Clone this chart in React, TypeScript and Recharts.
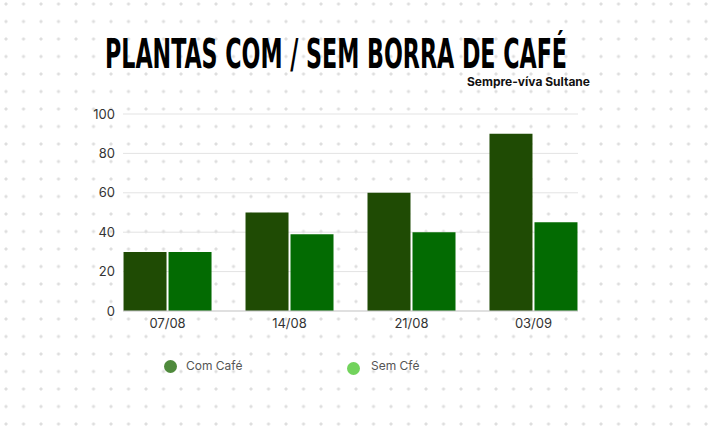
import React from 'react';
import { BarChart, Bar, XAxis, YAxis, CartesianGrid } from 'recharts';

const categories = ['07/08', '14/08', '21/08', '03/09'];
const comCafe = [30, 50, 60, 90];
const semCafe = [30, 39, 40, 45];
const yTicks = [0, 20, 40, 60, 80, 100];

const data = categories.map((c, i) => ({ idx: i, label: c, com: comCafe[i], sem: semCafe[i] }));

const FONT = 'Inter, "Open Sans", sans-serif';

function LegendRow() {
  return (
    <div style={{ position: 'absolute', left: 0, top: 357, width: 720, height: 30, fontFamily: FONT, fontSize: 12, color: '#555' }}>
      <span style={{ position: 'absolute', left: 164, top: 3, width: 13, height: 13, borderRadius: '50%', background: '#4f8a3c' }} />
      <span style={{ position: 'absolute', left: 186, top: 1 }}>Com Café</span>
      <span style={{ position: 'absolute', left: 347, top: 5, width: 13, height: 13, borderRadius: '50%', background: '#72d35c' }} />
      <span style={{ position: 'absolute', left: 371, top: 1 }}>Sem Cfé</span>
    </div>
  );
}

export default function App() {
  return (
    <div
      style={{
        position: 'absolute',
        left: 0,
        top: 0,
        width: 720,
        height: 435,
        background: '#fff',
        backgroundImage: 'radial-gradient(circle, #dedede 1.3px, transparent 1.8px)',
        backgroundSize: '17.5px 17.5px',
        backgroundPosition: '-2.75px -4.75px',
      }}
    >
      <svg width={720} height={100} style={{ position: 'absolute', left: 0, top: 0 }}>
        <text
          x={105}
          y={68}
          textLength={462}
          lengthAdjust="spacingAndGlyphs"
          fontFamily='"Liberation Sans Narrow", "DejaVu Sans Condensed", sans-serif'
          fontWeight={700}
          fontSize={40}
          fill="#000"
        >
          PLANTAS COM / SEM BORRA DE CAFÉ
        </text>
        <text x={590} y={86} textAnchor="end" fontFamily={FONT} fontWeight={700} fontSize={12} fill="#111">
          Sempre-víva Sultane
        </text>
      </svg>
      <div style={{ position: 'absolute', left: 0, top: 0 }}>
        <BarChart
          width={720}
          height={435}
          data={data}
          margin={{ top: 114, right: 142, bottom: 94, left: 0 }}
          barGap={2}
          barSize={43}
        >
          <CartesianGrid vertical={false} stroke="#e3e3e3" />
          <XAxis
            dataKey="idx"
            type="number"
            domain={[-0.365, 3.365]}
            ticks={[0, 1, 2, 3]}
            tickFormatter={(v: number) => categories[v]}
            height={30}
            axisLine={{ stroke: '#cfcfcf' }}
            tickLine={false}
            tick={{ fill: '#333', fontSize: 13, fontFamily: FONT }}
            allowDataOverflow
          />
          <YAxis
            width={123}
            domain={[0, 100]}
            ticks={yTicks}
            axisLine={false}
            tickLine={false}
            tick={{ fill: '#333', fontSize: 13, fontFamily: FONT }}
          />
          <Bar dataKey="com" name="Com Café" fill="#1f4b04" isAnimationActive={false} />
          <Bar dataKey="sem" name="Sem Cfé" fill="#036b02" isAnimationActive={false} />
        </BarChart>
      </div>
      <LegendRow />
    </div>
  );
}
